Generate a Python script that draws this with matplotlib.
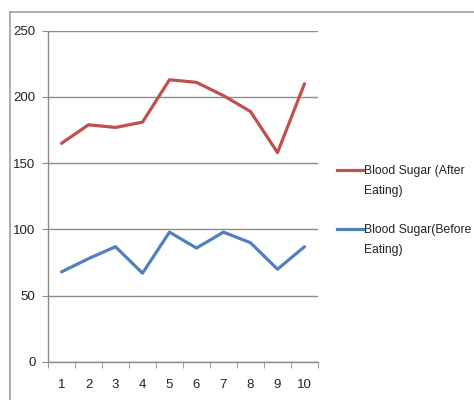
import matplotlib
matplotlib.use("Agg")
import matplotlib.pyplot as plt
from matplotlib.lines import Line2D
import numpy as np

days = [1, 2, 3, 4, 5, 6, 7, 8, 9, 10]
after_eating = [165, 179, 177, 181, 213, 211, 201, 189, 158, 210]
before_eating = [68, 78, 87, 67, 98, 86, 98, 90, 70, 87]
series_labels = ["Blood Sugar (After\nEating)", "Blood Sugar(Before\nEating)"]
y_ticks = [0, 50, 100, 150, 200, 250]

RED = "#C0504D"
BLUE = "#4F81BD"
GRID = "#8C8C8C"
FONT = "Liberation Sans"

W, H = 474, 400
fig = plt.figure(figsize=(W / 100, H / 100), dpi=100)
ax = fig.add_axes([48 / W, (H - 362) / H, (318 - 48) / W, (362 - 30.7) / H])

ax.plot(days, after_eating, color=RED, lw=2.3, solid_capstyle="round", solid_joinstyle="round")
ax.plot(days, before_eating, color=BLUE, lw=2.3, solid_capstyle="round", solid_joinstyle="round")

ax.set_xlim(0.5, 10.5)
ax.set_ylim(0, 250)
ax.set_yticks(y_ticks)
ax.set_yticklabels([str(v) for v in y_ticks], fontsize=9.5, family=FONT, color="#222222")
ax.set_xticks(days)
ax.set_xticklabels([str(d) for d in days], fontsize=9.5, family=FONT, color="#222222")
ax.set_xticks(np.arange(0.5, 11.0, 1.0), minor=True)
ax.tick_params(axis="x", which="major", length=0, pad=12)
ax.tick_params(axis="x", which="minor", length=4, color=GRID, direction="out")
ax.tick_params(axis="y", length=4, color=GRID, direction="out", pad=5)
ax.yaxis.grid(True, color=GRID, lw=1)
ax.set_axisbelow(True)
for s in ["top", "right"]:
    ax.spines[s].set_visible(False)
for s in ["left", "bottom"]:
    ax.spines[s].set_color(GRID)
    ax.spines[s].set_linewidth(1)

# chart border (cropped on right/bottom)
fig.add_artist(Line2D([9.5 / W, 1.0], [1 - 12 / H, 1 - 12 / H], color="#A0A0A0", lw=1.2, transform=fig.transFigure))
fig.add_artist(Line2D([9.5 / W, 9.5 / W], [0, 1 - 12 / H], color="#A0A0A0", lw=1.2, transform=fig.transFigure))

# legend
for label, color, ypix in [(series_labels[0], RED, 170), (series_labels[1], BLUE, 229)]:
    fig.add_artist(Line2D([337 / W, 363 / W], [1 - ypix / H, 1 - ypix / H], color=color, lw=2.3, transform=fig.transFigure))
    fig.text(364 / W, 1 - (ypix - 5) / H, label, fontsize=8.7, family=FONT, color="#222222",
             va="top", ha="left", linespacing=1.85)

fig.savefig("out.png", dpi=100, facecolor="white")
